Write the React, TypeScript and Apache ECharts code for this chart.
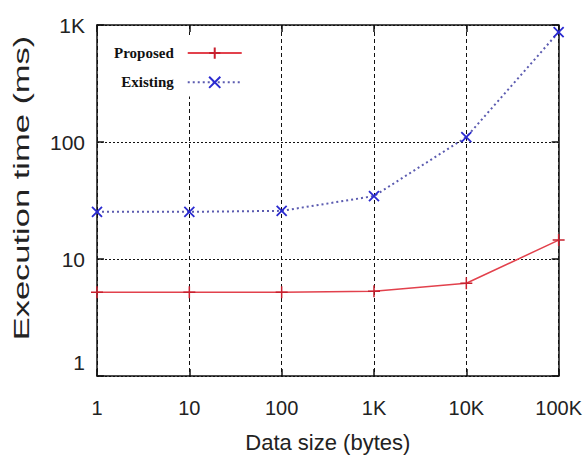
import React, { useEffect, useRef } from "react";
import * as echarts from "echarts";

const xValues = [1, 10, 100, 1000, 10000, 100000];
const proposedValues = [5.2, 5.2, 5.2, 5.3, 6.2, 14.5];
const existingValues = [25.3, 25.3, 25.8, 34.5, 110, 870];

const xTickValues = [1, 10, 100, 1000, 10000, 100000];
const xTickLabels = ["1", "10", "100", "1K", "10K", "100K"];
const yTickValues = [1, 10, 100, 1000];
const yTickLabels = ["1", "10", "100", "1K"];

const seriesNames = ["Proposed", "Existing"];
const xAxisTitle = "Data size (bytes)";
const yAxisTitle = "Execution time (ms)";

const SANS = "'Liberation Sans', Arial, sans-serif";

function lookup(values: number[], labels: string[], v: number): string {
  let best = 0;
  let bestD = Infinity;
  values.forEach((t, i) => {
    const d = Math.abs(Math.log10(t) - Math.log10(v));
    if (d < bestD) {
      bestD = d;
      best = i;
    }
  });
  return bestD < 0.01 ? labels[best] : "";
}

export default function App() {
  const ref = useRef<HTMLDivElement>(null);
  useEffect(() => {
    if (!ref.current) return;
    const chart = echarts.init(ref.current, null, { renderer: "svg" });
    const tickStyle = { color: "#111", width: 1.5 };
    const baseAxis = {
      type: "log" as const,
      logBase: 10,
      interval: 1,
      axisLine: { show: true, onZero: false, lineStyle: { color: "#111", width: 1.5 } },
      axisTick: { show: true, inside: true, length: 7, lineStyle: tickStyle },
      minorTick: { show: false },
    };
    chart.setOption({
      animation: false,
      backgroundColor: "#fff",
      grid: { left: 97, right: 25, top: 25, bottom: 92, containLabel: false },
      legend: {
        orient: "vertical",
        left: 100,
        top: 35,
        align: "right",
        itemWidth: 54,
        itemHeight: 14,
        itemGap: 13,
        backgroundColor: "#fff",
        padding: [10, 10, 6, 14],
        data: seriesNames,
        textStyle: {
          fontFamily: "'Liberation Serif', 'Times New Roman', serif",
          fontWeight: "bold",
          fontSize: 15,
          color: "#111",
          padding: [0, 9, 0, 0],
        },
      },
      xAxis: [
        {
          ...baseAxis,
          position: "bottom",
          min: 1,
          max: 100000,
          name: xAxisTitle,
          nameLocation: "middle",
          nameGap: 55,
          nameTextStyle: { fontFamily: SANS, fontSize: 22, color: "#222" },
          axisLabel: {
            margin: 22,
            fontFamily: SANS,
            fontSize: 20,
            color: "#222",
            formatter: (v: number) => lookup(xTickValues, xTickLabels, v),
          },
          splitLine: { show: true, lineStyle: { color: "#111", type: [4, 3], width: 1 } },
        },
        {
          ...baseAxis,
          position: "top",
          min: 1,
          max: 100000,
          axisLabel: { show: false },
          splitLine: { show: false },
        },
      ],
      yAxis: [
        {
          ...baseAxis,
          position: "left",
          min: 1,
          max: 1000,
          axisLabel: {
            margin: 12,
            fontFamily: SANS,
            fontSize: 21,
            color: "#222",
            formatter: (v: number) => {
              const s = lookup(yTickValues, yTickLabels, v);
              return s === "1" ? "{low|1}" : s;
            },
            rich: {
              low: { fontFamily: SANS, fontSize: 21, color: "#222", padding: [0, 0, 28, 0] },
            },
          },
          splitLine: { show: true, lineStyle: { color: "#111", type: [2, 2], width: 1.2 } },
        },
        {
          ...baseAxis,
          position: "right",
          min: 1,
          max: 1000,
          axisLabel: { show: false },
          splitLine: { show: false },
        },
      ],
      graphic: [
        {
          type: "text",
          x: 21,
          y: 188,
          rotation: Math.PI / 2,
          scaleX: 1.5,
          style: {
            text: yAxisTitle,
            font: "23px 'Liberation Sans', Arial, sans-serif",
            fill: "#222",
            align: "center",
            verticalAlign: "middle",
          },
        },
      ],
      series: [
        {
          name: seriesNames[0],
          type: "line",
          xAxisIndex: 0,
          yAxisIndex: 0,
          data: xValues.map((x, i) => [x, proposedValues[i]]),
          symbol: "path://M5,0L5,10M0,5L10,5",
          symbolSize: 12,
          lineStyle: { color: "#e2414c", width: 1.5, type: "solid" },
          itemStyle: { color: "none", borderColor: "#c8202e", borderWidth: 1.5 },
          z: 3,
        },
        {
          name: seriesNames[1],
          type: "line",
          xAxisIndex: 0,
          yAxisIndex: 0,
          data: xValues.map((x, i) => [x, existingValues[i]]),
          symbol: "path://M0,0L10,10M10,0L0,10",
          symbolSize: 10,
          lineStyle: { color: "#5b5bb0", width: 2, type: [2, 3] },
          itemStyle: { color: "none", borderColor: "#2a2ad0", borderWidth: 1.8 },
          z: 3,
        },
      ],
    });
    return () => chart.dispose();
  }, []);
  return <div ref={ref} style={{ width: 585, height: 468, position: "absolute", left: 0, top: 0 }} />;
}
